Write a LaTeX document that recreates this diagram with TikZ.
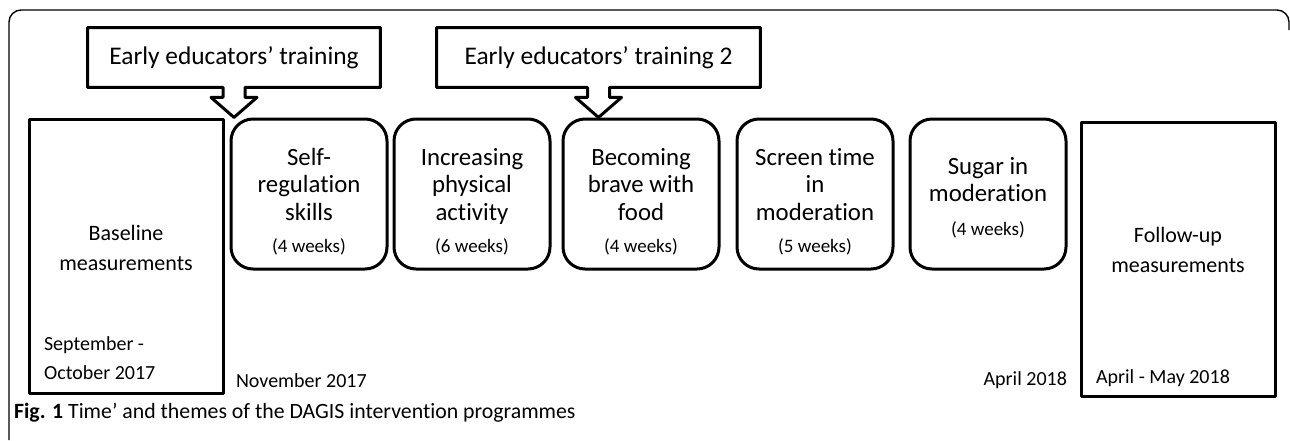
\documentclass[tikz,border=0pt]{standalone}
\usepackage{fontspec}
\setmainfont{Carlito}[Ligatures=NoCommon]
\usetikzlibrary{positioning}
\newcommand{\weeksfont}{\fontsize{9.5}{11}\selectfont}
\newcommand{\toppad}[1]{\rule{0pt}{#1}}

\begin{document}
\begin{tikzpicture}[x=0.5pt,y=-0.5pt,line join=round,
    theme/.style={draw,line width=1.5pt,rounded corners=11pt,minimum width=78pt,minimum height=75pt,align=center,inner sep=1pt,font=\fontsize{12.4}{13.8}\selectfont},
    measure/.style={draw,line width=1.5pt,minimum width=97pt,minimum height=137pt},
    mtext/.style={align=center,font=\fontsize{11}{14.8}\selectfont},
    date/.style={align=left,font=\fontsize{10}{14.5}\selectfont},
    training/.style={minimum width=146pt,minimum height=29.5pt,font=\fontsize{12.7}{14}\selectfont},
    callout/.style={line width=1.5pt}]
  \useasboundingbox (0,0) rectangle (1290,440);

  % frame of the figure
  \draw[line width=0.7pt,rounded corners=6pt] (9,440) -- (9,10) -- (1289,10) -- (1289,30);

  % measurements before and after
  \node[measure] (base) at (126,256.5) {};
  \node[mtext] (basetxt) at (126,248) {Baseline\\measurements};
  \node[date,anchor=west] (basedate) at (37,358) {September -\\October 2017};
  \node[measure] (follow) at (1178,259) {};
  \node[mtext] (followtxt) at (1178,250) {Follow-up\\measurements};
  \node[date,anchor=west] (followdate) at (1089,378) {April - May 2018};

  % themes
  \node[theme] (self) at (309,194) {\toppad{16pt}Self-\\regulation\\skills\\[2pt]{\weeksfont (4 weeks)}};
  \node[theme,right=2pt of self] (phys) {\toppad{16pt}Increasing\\physical\\activity\\[2pt]{\weeksfont (6 weeks)}};
  \node[theme,right=5pt of phys] (food) {\toppad{16pt}Becoming\\brave with\\food\\[2pt]{\weeksfont (4 weeks)}};
  \node[theme,right=7.5pt of food] (screen) {\toppad{16pt}Screen time\\in\\moderation\\[2pt]{\weeksfont (5 weeks)}};
  \node[theme,right=7pt of screen] (sugar) {\toppad{12pt}Sugar in\\moderation\\[3pt]{\weeksfont (4 weeks)}};

  \node[date,anchor=west] (nov) at (229,381) {November 2017};
  \node[date,anchor=east] (apr) at (1074,380) {April 2018};

  % trainings with arrows
  \node[training] (train1) at (234,57.5) {Early educators’ training};
  \node[training,minimum width=161.5pt] (train2) at (598.5,57.5) {Early educators’ training 2};
  \foreach \t in {train1,train2}
    \draw[callout] ([shift={(-11,0)}]\t.south) -- ++(0,10) -- ++(-12,0) -- ([shift={(0,30)}]\t.south)
      -- ([shift={(23,10)}]\t.south) -- ++(-12,0) -- ([shift={(11,0)}]\t.south)
      -- (\t.south east) -- (\t.north east) -- (\t.north west) -- (\t.south west) -- cycle;

  \node[anchor=west,font=\fontsize{10.9}{12}\selectfont] (caption) at (7,413) {\textbf{Fig. 1} Time’ and themes of the DAGIS intervention programmes};
\end{tikzpicture}
\end{document}
